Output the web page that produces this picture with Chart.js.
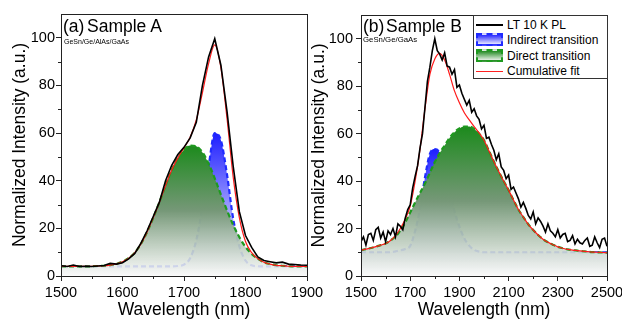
<!DOCTYPE html>
<html>
<head>
<meta charset="utf-8">
<script src="https://cdn.jsdelivr.net/npm/chart.js@4.4.1/dist/chart.umd.min.js"></script>
<style>
  html, body { margin:0; padding:0; background:#fff; }
  body { width:622px; height:321px; overflow:hidden; position:relative; font-family:"Liberation Sans", Arial, sans-serif; color:#000; }
  .pane { position:absolute; top:0; height:321px; }
  .lbl { position:absolute; white-space:nowrap; line-height:1; }
  .big { font-size:17.5px; }
  #legend { position:absolute; left:473px; top:15px; width:133px; height:62px; border:1px solid #333; background:#fff; font-size:12px; }
  #legend .row { position:absolute; left:0; height:14px; }
  #legend .sw { position:absolute; left:2px; width:27px; }
  #legend .txt { position:absolute; left:33px; top:0; line-height:14px; white-space:nowrap; }
</style>
</head>
<body>
<div class="pane" style="left:0;width:345px"><canvas id="chartA" width="345" height="321"></canvas></div>
<div class="pane" style="left:305px;width:337px"><canvas id="chartB" width="337" height="321"></canvas></div>

<div class="lbl big" style="left:63px;top:17.7px">(a)</div>
<div class="lbl big" style="left:87px;top:17.7px">Sample A</div>
<div class="lbl" style="left:64px;top:37.6px;font-size:7px">GeSn/Ge/AlAs/GaAs</div>
<div class="lbl big" style="left:363px;top:17.7px">(b)</div>
<div class="lbl big" style="left:386px;top:17.7px">Sample B</div>
<div class="lbl" style="left:363px;top:36.4px;font-size:7.8px">GeSn/Ge/GaAs</div>

<div id="legend">
  <div class="row" style="top:2px"><div class="sw" style="top:6px;height:2px;background:#000"></div><div class="txt">LT 10 K PL</div></div>
  <div class="row" style="top:17px"><div class="sw" style="top:0;height:9px;border:2px dashed #1f2bff;width:23px;background:linear-gradient(#2a2aff,#e6e6ff)"></div><div class="txt">Indirect transition</div></div>
  <div class="row" style="top:32.5px"><div class="sw" style="top:0;height:9px;border:2px dashed #1f9a1f;width:23px;background:linear-gradient(#1f8a1f,#e4eee4)"></div><div class="txt">Direct transition</div></div>
  <div class="row" style="top:48px"><div class="sw" style="top:6.5px;height:1px;background:#ff2020"></div><div class="txt">Cumulative fit</div></div>
</div>

<script>
// ---- Panel (a) Sample A : GeSn/Ge/AlAs/GaAs ----
const wlA = [1500,1510,1520,1530,1540,1550,1560,1570,1580,1590,
             1600,1610,1620,1630,1640,1650,1660,1670,1680,1690,
             1700,1710,1720,1730,1740,1750,1760,1770,1780,1790,
             1800,1810,1820,1830,1840,1850,1860,1870,1880,1890,1900];
const plA = [4.3,4.0,4.6,4.0,4.1,4.0,4.2,4.4,5.3,5.0,
             5.6,7.2,9.5,13.8,19.0,25.0,31.0,40.0,46.5,51.0,
             54.0,58.0,64.5,80.0,92.0,99.6,88.5,69.0,46.0,27.0,
             17.0,12.0,8.0,6.5,6.0,5.5,5.8,5.0,4.8,4.6,4.5];
const indirectA = [4.0,4.0,4.0,4.0,4.0,4.0,4.0,4.0,4.0,4.0,
                   4.0,4.0,4.0,4.0,4.0,4.0,4.0,4.0,4.0,4.2,
                   4.8,7.5,15.0,29.0,46.0,60.0,57.0,42.5,24.0,12.5,
                   6.5,4.5,4.1,4.0,4.0,4.0,4.0,4.0,4.0,4.0,4.0];
const directA = [4.0,4.0,4.0,4.0,4.0,4.1,4.2,4.3,4.6,5.1,
                 6.0,7.5,9.8,13.5,18.5,24.5,31.0,38.0,44.5,49.5,
                 53.0,54.8,54.5,51.9,47.2,41.0,34.2,27.5,21.4,16.3,
                 12.2,9.3,7.2,5.8,5.0,4.5,4.3,4.1,4.0,4.0,4.0];
const fitA = [4.0,4.0,4.0,4.0,4.0,4.1,4.2,4.3,4.6,5.1,
              6.0,7.5,9.8,13.5,18.5,24.5,31.0,38.0,44.5,49.6,
              53.8,58.3,65.5,77.0,89.2,97.0,87.5,66.0,41.5,24.5,
              14.5,9.8,7.3,5.8,5.0,4.5,4.3,4.1,4.0,4.0,4.0];
const xTicksA = [1500,1600,1700,1800,1900];
const xMinorA = [1550,1650,1750,1850];

// ---- Panel (b) Sample B : GeSn/Ge/GaAs ----
const wlB = [1500,1510,1520,1530,1540,1550,1560,1570,1580,1590,
             1600,1610,1620,1630,1640,1650,1660,1670,1680,1690,
             1700,1710,1720,1730,1740,1750,1760,1770,1780,1790,
             1800,1810,1820,1830,1840,1850,1860,1870,1880,1890,
             1900,1910,1920,1930,1940,1950,1960,1970,1980,1990,
             2000,2010,2020,2030,2040,2050,2060,2070,2080,2090,
             2100,2110,2120,2130,2140,2150,2160,2170,2180,2190,
             2200,2210,2220,2230,2240,2250,2260,2270,2280,2290,
             2300,2310,2320,2330,2340,2350,2360,2370,2380,2390,
             2400,2410,2420,2430,2440,2450,2460,2470,2480,2490,2500];
const plB = [14.5,16.5,13.0,17.5,18.0,15.0,19.5,20.5,16.0,18.5,
             14.5,19.0,17.5,20.0,16.5,22.0,21.0,19.5,24.5,28.0,
             30.0,37.0,42.0,46.5,54.0,60.0,71.0,82.0,88.0,95.0,
             100.0,95.0,93.5,91.0,94.0,88.5,88.0,85.0,87.0,79.5,
             80.5,77.0,74.5,72.0,74.0,69.0,70.5,67.5,66.0,62.0,
             63.5,58.0,58.5,55.5,53.0,49.0,51.5,46.0,44.5,41.0,
             42.5,36.5,37.5,35.0,32.5,29.0,31.0,28.5,25.5,24.0,
             27.0,22.0,24.5,23.0,21.0,18.5,22.0,19.0,18.0,16.5,
             19.5,16.0,17.5,18.0,14.5,15.0,17.0,13.5,15.5,14.0,
             13.5,15.0,16.0,12.5,13.0,16.5,14.0,12.0,15.5,16.0,12.5];
const wlFitB = [1500,1520,1540,1560,1580,1600,1620,1640,1660,1680,
                1700,1720,1740,1760,1780,1800,1820,1840,1860,1880,
                1900,1920,1940,1960,1980,2000,2020,2040,2060,2080,
                2100,2120,2140,2160,2180,2200,2220,2240,2260,2280,
                2300,2320,2340,2360,2380,2400,2420,2440,2460,2480,2500];
const indirectB = [10.0,10.0,10.0,10.0,10.0,10.0,10.0,10.4,10.8,11.4,
                   12.7,19.0,28.5,41.5,51.5,53.5,52.0,46.0,36.8,27.4,
                   20.8,15.8,12.8,11.0,10.3,10.0,10.0,10.0,10.0,10.0,
                   10.0,10.0,10.0,10.0,10.0,10.0,10.0,10.0,10.0,10.0,
                   10.0,10.0,10.0,10.0,10.0,10.0,10.0,10.0,10.0,10.0,10.0];
const directB = [10.9,11.3,11.8,12.4,13.0,13.7,15.0,16.6,19.2,22.6,
                 26.8,31.0,35.0,39.0,43.5,48.0,51.8,55.0,58.2,60.6,
                 62.2,63.0,63.0,62.0,60.0,57.2,52.8,48.3,44.0,40.0,
                 36.2,32.0,28.0,24.8,21.8,19.4,17.3,15.5,14.2,13.2,
                 12.3,11.7,11.2,10.9,10.7,10.5,10.3,10.1,10.0,9.9,9.8];
const fitB = [10.9,11.3,11.8,12.4,13.0,13.7,15.0,17.0,20.0,24.0,
              29.5,40.0,53.5,70.5,85.0,91.5,93.8,91.0,85.0,78.0,
              73.0,68.8,65.8,63.0,60.3,57.2,52.8,48.3,44.0,40.0,
              36.2,32.0,28.0,24.8,21.8,19.4,17.3,15.5,14.2,13.2,
              12.3,11.7,11.2,10.9,10.7,10.5,10.3,10.1,10.0,9.9,9.8];
const xTicksB = [1500,1700,1900,2100,2300,2500];
const xMinorB = [1600,1800,2000,2200,2400];

const yTicks = [0,20,40,60,80,100];
const yMinor = [10,30,50,70,90];

const FONT = '"Liberation Sans", Arial, sans-serif';

function pts(xs, ys) { return xs.map((x, i) => ({x: x, y: ys[i]})); }

// vertical fade: colour at the curve's peak -> near white at y = 0
function fadeFill(top, mid) {
  return function(context) {
    const chart = context.chart;
    if (!chart.chartArea) return null;
    const ys = chart.scales.y;
    const peak = Math.max(...context.dataset.data.map(p => p.y));
    const g = chart.ctx.createLinearGradient(0, ys.getPixelForValue(peak), 0, ys.getPixelForValue(0));
    g.addColorStop(0, top);
    g.addColorStop(0.5, mid);
    g.addColorStop(1, 'rgba(250,250,250,0.85)');
    return g;
  };
}

// box frame + short minor ticks
const frameMinor = {
  id: 'frameMinor',
  afterDraw(chart, args, opts) {
    const c = chart.ctx, a = chart.chartArea, sx = chart.scales.x, sy = chart.scales.y;
    c.save();
    c.strokeStyle = '#222';
    c.lineWidth = 1;
    c.strokeRect(Math.round(a.left) + 0.5, Math.round(a.top) + 0.5, Math.round(a.right - a.left), Math.round(a.bottom - a.top));
    c.beginPath();
    opts.x.forEach(v => {
      const px = Math.round(sx.getPixelForValue(v)) + 0.5;
      c.moveTo(px, a.bottom); c.lineTo(px, a.bottom + 3);
    });
    opts.y.forEach(v => {
      const py = Math.round(sy.getPixelForValue(v)) + 0.5;
      c.moveTo(a.left, py); c.lineTo(a.left - 3, py);
    });
    c.stroke();
    c.restore();
  }
};

function makeChart(id, cfg) {
  const axisGrid = {drawOnChartArea: false, drawTicks: true, tickLength: 5, color: '#222'};
  return new Chart(document.getElementById(id), {
    type: 'line',
    data: {
      datasets: [
        {label: 'LT 10 K PL', data: cfg.pl, borderColor: '#000', borderWidth: 1.6, pointRadius: 0, tension: 0, fill: false, order: 0},
        {label: 'Cumulative fit', data: cfg.fit, borderColor: '#ff1a1a', borderWidth: 1.2, pointRadius: 0, cubicInterpolationMode: 'monotone', fill: false, order: 1},
        {label: 'Direct transition', data: cfg.direct, borderColor: '#1f9a1f', borderWidth: 2.2, borderDash: [5, 3], pointRadius: 0,
         cubicInterpolationMode: 'monotone', fill: 'origin', backgroundColor: fadeFill('rgb(28,138,28)', 'rgb(118,152,120)'), order: 2},
        {label: 'Indirect transition', data: cfg.indirect, borderColor: '#1f2bff', borderWidth: 2.2, borderDash: [5, 3], pointRadius: 0,
         cubicInterpolationMode: 'monotone', fill: 'origin', backgroundColor: fadeFill('rgb(30,30,255)', 'rgb(150,150,255)'), order: 3}
      ]
    },
    options: {
      responsive: false,
      animation: false,
      devicePixelRatio: 1,
      layout: {padding: {left: 0, top: cfg.top, right: cfg.right, bottom: 0}},
      plugins: {legend: {display: false}, tooltip: {enabled: false}, frameMinor: {x: cfg.xMinor, y: yMinor}},
      scales: {
        x: {
          type: 'linear', min: cfg.xMin, max: cfg.xMax,
          grid: axisGrid, border: {display: true, color: '#222', width: 1},
          afterBuildTicks: s => { s.ticks = cfg.xTicks.map(v => ({value: v})); },
          afterFit: s => { s.height = 45; },
          ticks: {color: '#000', padding: 3, maxRotation: 0, autoSkip: false, font: {family: FONT, size: 14.5},
                  callback: v => String(v)},
          title: {display: true, text: 'Wavelength (nm)', color: '#000', padding: {top: 0, bottom: 0}, font: {family: FONT, size: 17.5}}
        },
        y: {
          min: 0, max: 110,
          grid: axisGrid, border: {display: true, color: '#222', width: 1},
          afterBuildTicks: s => { s.ticks = yTicks.map(v => ({value: v})); },
          afterFit: s => { s.width = cfg.yWidth; },
          ticks: {color: '#000', padding: cfg.yPad, font: {family: FONT, size: 14.5}, callback: v => String(v)},
          title: {display: true, text: 'Normalized Intensity (a.u.)', color: '#000', padding: {top: cfg.titlePad, bottom: 0}, font: {family: FONT, size: 17.5}}
        }
      }
    },
    plugins: [frameMinor]
  });
}

makeChart('chartA', {
  pl: pts(wlA, plA), fit: pts(wlA, fitA), direct: pts(wlA, directA), indirect: pts(wlA, indirectA),
  xMin: 1500, xMax: 1900, xTicks: xTicksA, xMinor: xMinorA,
  top: 14, right: 38, yWidth: 61, yPad: 1, titlePad: 9.5
});
makeChart('chartB', {
  pl: pts(wlB, plB), fit: pts(wlFitB, fitB), direct: pts(wlFitB, directB), indirect: pts(wlFitB, indirectB),
  xMin: 1500, xMax: 2500, xTicks: xTicksB, xMinor: xMinorB,
  top: 15, right: 35, yWidth: 56, yPad: 3, titlePad: 4
});
</script>
</body>
</html>
